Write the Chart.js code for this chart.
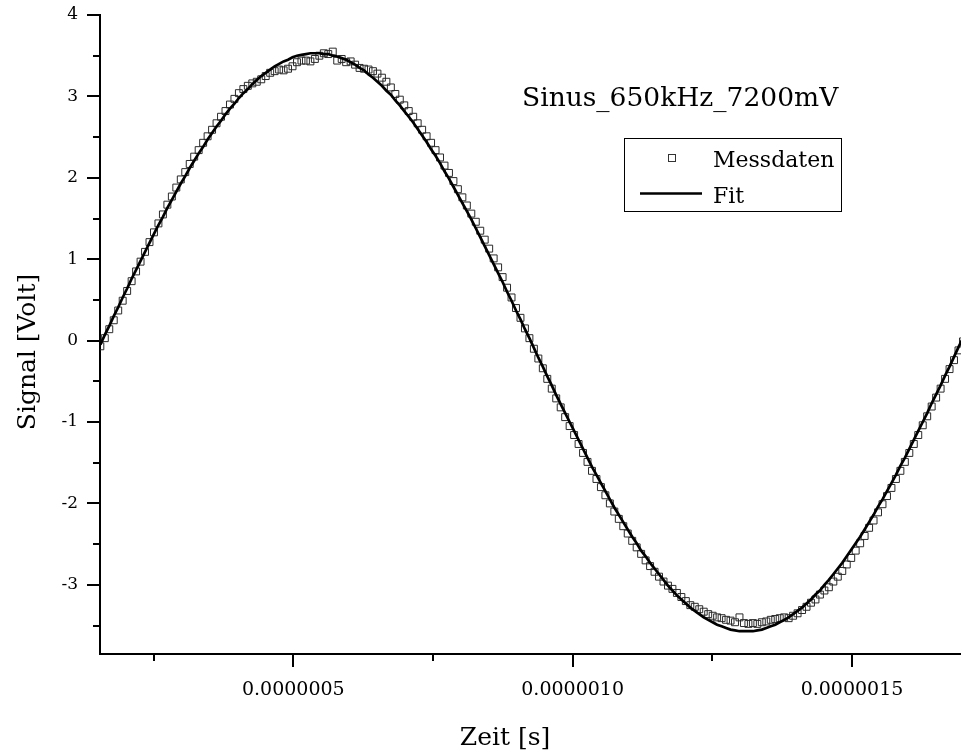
<!DOCTYPE html>
<html>
<head>
<meta charset="utf-8">
<script src="https://cdn.jsdelivr.net/npm/chart.js@4/dist/chart.umd.min.js"></script>
<style>
html,body{margin:0;padding:0;background:#fff;overflow:hidden}
#wrap{position:relative;width:961px;height:756px}
</style>
</head>
<body>
<div id="wrap"><canvas id="c" width="961" height="756"></canvas></div>
<script>
// ---- data ----
const TITLE_TEXT = 'Sinus_650kHz_7200mV';
const SERIES_NAMES = ['Messdaten', 'Fit'];
const X_TITLE = 'Zeit [s]';
const Y_TITLE = 'Signal [Volt]';

// oscilloscope sampling: start time and sample interval (s)
const SAMPLE_START = 0.1546e-6;
const SAMPLE_STEP = 8e-9;

const MESSDATEN = [
 -0.07, 0.03, 0.14, 0.25, 0.37, 0.49, 0.61, 0.73, 0.85, 0.97,
  1.09, 1.21, 1.33, 1.44, 1.55, 1.67, 1.77, 1.88, 1.98, 2.07,
  2.17, 2.26, 2.34, 2.43, 2.51, 2.59, 2.67, 2.75, 2.82, 2.90,
  2.97, 3.04, 3.09, 3.13, 3.16, 3.18, 3.21, 3.25, 3.29, 3.31,
  3.33, 3.32, 3.34, 3.37, 3.42, 3.44, 3.44, 3.43, 3.46, 3.50,
  3.53, 3.52, 3.55, 3.44, 3.46, 3.42, 3.43, 3.39, 3.35, 3.34,
  3.33, 3.31, 3.28, 3.23, 3.18, 3.11, 3.03, 2.96, 2.89, 2.82,
  2.75, 2.67, 2.59, 2.51, 2.43, 2.34, 2.25, 2.15, 2.06, 1.96,
  1.86, 1.76, 1.66, 1.56, 1.46, 1.35, 1.24, 1.13, 1.01, 0.90,
  0.78, 0.65, 0.53, 0.40, 0.28, 0.15, 0.03, -0.10, -0.22, -0.34,
 -0.47, -0.59, -0.71, -0.82, -0.94, -1.05, -1.16, -1.27, -1.38, -1.49,
 -1.60, -1.70, -1.80, -1.90, -2.00, -2.10, -2.19, -2.28, -2.37, -2.46,
 -2.54, -2.62, -2.70, -2.77, -2.84, -2.90, -2.96, -3.01, -3.05, -3.10,
 -3.15, -3.20, -3.25, -3.27, -3.30, -3.33, -3.36, -3.38, -3.40, -3.41,
 -3.43, -3.44, -3.46, -3.40, -3.47, -3.48, -3.47, -3.48, -3.46, -3.45,
 -3.43, -3.42, -3.41, -3.40, -3.41, -3.38, -3.35, -3.31, -3.27, -3.22,
 -3.18, -3.12, -3.07, -3.03, -2.96, -2.90, -2.83, -2.75, -2.67, -2.58,
 -2.49, -2.40, -2.30, -2.21, -2.11, -2.01, -1.91, -1.81, -1.70, -1.60,
 -1.49, -1.38, -1.27, -1.16, -1.04, -0.93, -0.81, -0.70, -0.59, -0.47,
 -0.35, -0.24, -0.12, -0.01
];

const FIT = [
 -0.05, 0.07, 0.18, 0.30, 0.41, 0.53, 0.64, 0.76, 0.87, 0.98,
  1.09, 1.20, 1.31, 1.42, 1.52, 1.63, 1.73, 1.83, 1.93, 2.02,
  2.12, 2.21, 2.30, 2.38, 2.47, 2.55, 2.63, 2.70, 2.78, 2.85,
  2.91, 2.98, 3.04, 3.09, 3.15, 3.20, 3.25, 3.29, 3.33, 3.37,
  3.40, 3.43, 3.45, 3.48, 3.50, 3.51, 3.52, 3.53, 3.53, 3.53,
  3.52, 3.52, 3.50, 3.49, 3.47, 3.45, 3.42, 3.39, 3.35, 3.32,
  3.27, 3.23, 3.18, 3.13, 3.07, 3.02, 2.95, 2.89, 2.82, 2.75,
  2.68, 2.60, 2.52, 2.44, 2.35, 2.27, 2.18, 2.08, 1.99, 1.89,
  1.79, 1.69, 1.59, 1.49, 1.38, 1.27, 1.16, 1.05, 0.94, 0.83,
  0.72, 0.60, 0.49, 0.37, 0.26, 0.14, 0.03, -0.09, -0.21, -0.32,
 -0.44, -0.55, -0.67, -0.78, -0.89, -1.00, -1.11, -1.22, -1.33, -1.44,
 -1.55, -1.65, -1.75, -1.85, -1.95, -2.05, -2.14, -2.23, -2.32, -2.41,
 -2.49, -2.58, -2.65, -2.73, -2.80, -2.87, -2.94, -3.01, -3.07, -3.13,
 -3.18, -3.23, -3.28, -3.32, -3.36, -3.40, -3.43, -3.46, -3.49, -3.51,
 -3.53, -3.55, -3.56, -3.57, -3.57, -3.57, -3.57, -3.56, -3.55, -3.53,
 -3.51, -3.49, -3.46, -3.43, -3.40, -3.36, -3.32, -3.28, -3.23, -3.18,
 -3.12, -3.07, -3.00, -2.94, -2.87, -2.80, -2.73, -2.65, -2.57, -2.49,
 -2.41, -2.32, -2.23, -2.14, -2.04, -1.95, -1.85, -1.75, -1.65, -1.54,
 -1.44, -1.33, -1.22, -1.11, -1.00, -0.89, -0.77, -0.66, -0.55, -0.43,
 -0.32, -0.20, -0.08, 0.03
];

const X_RANGE = [0.1540e-6, 1.6951e-6];
const Y_RANGE = [-3.85, 4];
const X_TICKS = [0.5e-6, 1.0e-6, 1.5e-6];
const X_TICK_LABELS = ['0.0000005', '0.0000010', '0.0000015'];
const X_MINOR_TICKS = [0.25e-6, 0.75e-6, 1.25e-6];
const Y_TICKS = [-3, -2, -1, 0, 1, 2, 3, 4];
const Y_TICK_LABELS = ['-3', '-2', '-1', '0', '1', '2', '3', '4'];
const Y_MINOR_TICKS = [-3.5, -2.5, -1.5, -0.5, 0.5, 1.5, 2.5, 3.5];

// ---- chart ----
const FONT = "'DejaVu Serif', 'Liberation Serif', serif";
const timeAt = i => SAMPLE_START + i * SAMPLE_STEP;
const measPoints = MESSDATEN.map((v, i) => ({x: timeAt(i), y: v}));
const fitPoints = FIT.map((v, i) => ({x: timeAt(i), y: v}));

function zeroPad(s) {
  s.paddingTop = 0; s.paddingBottom = 0; s.paddingLeft = 0; s.paddingRight = 0;
}

const decorPlugin = {
  id: 'decor',
  afterDraw(chart) {
    const ctx = chart.ctx;
    const xs = chart.scales.x, ys = chart.scales.y;
    const area = chart.chartArea;
    ctx.save();
    ctx.strokeStyle = '#000';
    ctx.lineWidth = 2;
    ctx.beginPath();
    Y_TICKS.forEach(v => { const y = Math.round(ys.getPixelForValue(v)); ctx.moveTo(area.left - 13, y); ctx.lineTo(area.left, y); });
    Y_MINOR_TICKS.forEach(v => { const y = Math.round(ys.getPixelForValue(v)); ctx.moveTo(area.left - 7, y); ctx.lineTo(area.left, y); });
    X_TICKS.forEach(v => { const x = Math.round(xs.getPixelForValue(v)); ctx.moveTo(x, area.bottom); ctx.lineTo(x, area.bottom + 13); });
    X_MINOR_TICKS.forEach(v => { const x = Math.round(xs.getPixelForValue(v)); ctx.moveTo(x, area.bottom); ctx.lineTo(x, area.bottom + 7); });
    ctx.stroke();

    ctx.fillStyle = '#000';
    // axis titles
    ctx.font = "25px " + FONT;
    ctx.textAlign = 'center';
    ctx.textBaseline = 'middle';
    ctx.fillText(X_TITLE, 505, 738);
    ctx.save();
    ctx.translate(28, 352);
    ctx.rotate(-Math.PI / 2);
    ctx.fillText(Y_TITLE, 0, 0);
    ctx.restore();

    // title text
    ctx.font = "26.5px " + FONT;
    ctx.textAlign = 'left';
    ctx.textBaseline = 'alphabetic';
    ctx.fillText(TITLE_TEXT, 522, 106);

    // legend box
    ctx.lineWidth = 1;
    ctx.strokeStyle = '#000';
    ctx.strokeRect(624.5, 138.5, 217, 73);
    ctx.strokeStyle = '#333';
    ctx.strokeRect(668.5, 154.5, 7, 7);
    ctx.strokeStyle = '#000';
    ctx.lineWidth = 2.7;
    ctx.beginPath();
    ctx.moveTo(640, 193.5);
    ctx.lineTo(702, 193.5);
    ctx.stroke();
    ctx.font = "22px " + FONT;
    ctx.fillText(SERIES_NAMES[0], 713, 167);
    ctx.fillText(SERIES_NAMES[1], 713, 203);
    ctx.restore();
  }
};

new Chart(document.getElementById('c'), {
  type: 'line',
  data: {
    datasets: [
      {
        label: SERIES_NAMES[1],
        data: fitPoints,
        borderColor: '#000',
        borderWidth: 2.7,
        pointRadius: 0,
        tension: 0,
        fill: false,
        order: 0
      },
      {
        label: SERIES_NAMES[0],
        data: measPoints,
        showLine: false,
        pointStyle: 'rect',
        pointRadius: 4.9,
        pointBorderWidth: 1,
        pointBorderColor: '#2a2a2a',
        pointBackgroundColor: 'rgba(255,255,255,0)',
        borderColor: '#2a2a2a',
        order: 1
      }
    ]
  },
  options: {
    responsive: false,
    animation: false,
    devicePixelRatio: 1,
    layout: {autoPadding: false, padding: {top: 15, right: 0, left: 0, bottom: 0}},
    plugins: {legend: {display: false}, tooltip: {enabled: false}},
    scales: {
      x: {
        type: 'linear',
        min: X_RANGE[0],
        max: X_RANGE[1],
        afterBuildTicks: s => { s.ticks = X_TICKS.map(v => ({value: v})); },
        afterFit: s => { s.height = 102; zeroPad(s); },
        grid: {display: false, drawTicks: false},
        border: {display: true, color: '#000', width: 2},
        ticks: {
          callback: v => X_TICK_LABELS[X_TICKS.indexOf(v)],
          font: {family: FONT, size: 19},
          color: '#000',
          padding: 25,
          maxRotation: 0,
          autoSkip: false
        }
      },
      y: {
        type: 'linear',
        min: Y_RANGE[0],
        max: Y_RANGE[1],
        afterBuildTicks: s => { s.ticks = Y_TICKS.map(v => ({value: v})); },
        afterFit: s => { s.width = 100; zeroPad(s); },
        grid: {display: false, drawTicks: false},
        border: {display: true, color: '#000', width: 2},
        ticks: {
          callback: v => Y_TICK_LABELS[Y_TICKS.indexOf(v)],
          font: {family: FONT, size: 17},
          color: '#000',
          padding: 22,
          autoSkip: false
        }
      }
    }
  },
  plugins: [decorPlugin]
});
</script>
</body>
</html>
